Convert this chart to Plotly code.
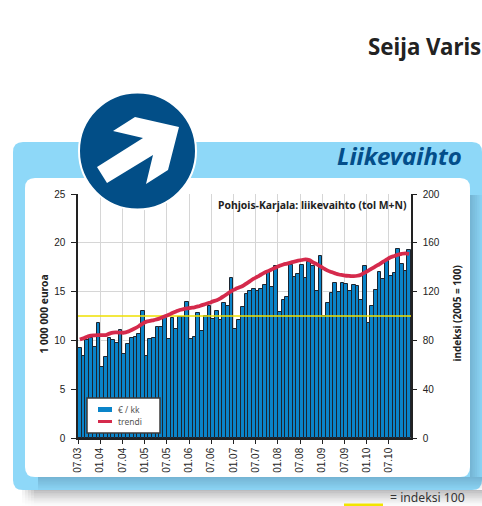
import plotly.graph_objects as go

# ---------- data ----------
revenue = [9.19, 8.4, 10.04, 10.25, 9.29, 11.75, 7.31, 8.27, 10.2, 10.04, 9.7, 11.03, 8.6, 9.67, 10.28,
           10.35, 10.62, 12.97, 8.4, 10.14, 10.28, 11.37, 11.37, 12.26, 10.1, 12.26, 11.13, 12.4, 12.4, 13.93,
           10.18, 10.3, 12.77, 10.96, 12.53, 13.52, 12.2, 12.97, 12.05, 13.86, 13.5, 16.36, 11.13, 12.05, 13.4,
           14.72, 15.02, 15.23, 15.06, 15.23, 15.67, 17.0, 15.43, 17.65, 12.91, 14.14, 14.48, 17.73, 16.46, 16.8,
           17.73, 16.36, 18.0, 17.62, 15.06, 18.6, 12.5, 13.8, 14.82, 15.85, 14.93, 15.85, 15.78, 15.02, 15.71,
           15.57, 14.14, 17.65, 11.75, 13.52, 15.16, 16.97, 16.26, 18.17, 16.63, 16.87, 19.33, 17.83, 17.11, 19.23]
trend = [80.7, 81.8, 83, 84, 84.2, 84.3, 84.4, 84.4, 85.6, 86.4, 86.5, 86.4, 86.3, 87.2, 88.5,
         90, 91.8, 93.8, 95.4, 96, 96.7, 97.4, 98.6, 99.8, 101, 102.4, 103.7, 104.9, 105.6, 106.2,
         106.7, 107.1, 107.9, 108.9, 109.8, 110.8, 112, 112.9, 114.5, 116.4, 118.4, 120.5, 122, 123.3, 124.6,
         126.6, 128.6, 130.6, 132.2, 134, 135.7, 137, 138.4, 139.8, 141.2, 142.2, 143, 143.8, 144.6, 145.3,
         145.9, 146.4, 145.8, 143.9, 142.5, 140.6, 138.9, 137.2, 136, 134.9, 134, 133.5, 133, 132.8, 132.7,
         133, 133.9, 135.6, 137.2, 139, 140.8, 142.6, 144.6, 146.4, 148.2, 149.2, 150.2, 151, 151.4, 151]
index_level = [100, 100]
x_tick_labels = ["07.03", "01.04", "07.04", "01.05", "07.05", "01.06", "07.06", "01.07",
                 "07.07", "01.08", "07.08", "01.09", "07.09", "01.10", "07.10"]
left_ticks = [0, 5, 10, 15, 20, 25]
right_ticks = [0, 40, 80, 120, 160, 200]
months_per_tick = 6
n_months = len(revenue)

W, H = 482, 506
L, R, T, B = 78, 411, 194, 438
px_x = lambda x: (x - L) / (R - L)
px_y = lambda y: (B - y) / (B - T)

def rrect(x0, y0, x1, y1, r, color, layer="below"):
    X, Y = px_x, px_y
    p = (f"M {X(x0 + r)},{Y(y0)} L {X(x1 - r)},{Y(y0)} Q {X(x1)},{Y(y0)} {X(x1)},{Y(y0 + r)} "
         f"L {X(x1)},{Y(y1 - r)} Q {X(x1)},{Y(y1)} {X(x1 - r)},{Y(y1)} "
         f"L {X(x0 + r)},{Y(y1)} Q {X(x0)},{Y(y1)} {X(x0)},{Y(y1 - r)} "
         f"L {X(x0)},{Y(y0 + r)} Q {X(x0)},{Y(y0)} {X(x0 + r)},{Y(y0)} Z")
    return dict(type="path", xref="paper", yref="paper", path=p, fillcolor=color,
                line=dict(width=0), layer=layer)

def box(x0, y0, x1, y1, color, layer="below", line=None):
    return dict(type="rect", xref="paper", yref="paper", layer=layer,
                x0=px_x(x0), x1=px_x(x1), y0=px_y(y1), y1=px_y(y0),
                fillcolor=color, line=line or dict(width=0))

shapes = []
# grey drop shadow under the panel, with a soft left end
shadow_steps = 10
for k in range(shadow_steps):
    a = 0.36 * (1 - k / shadow_steps) ** 1.3
    y0, y1 = 490 + k * 1.6, 490 + (k + 1) * 1.6
    shapes.append(box(34, y0, 482, y1, f"rgba(70,70,75,{a:.3f})"))
    for j in range(4):
        shapes.append(box(22 + j * 3, y0, 25 + j * 3, y1, f"rgba(70,70,75,{a * (j + 1) / 5:.3f})"))
# blue panel
shapes.append(rrect(13, 142, 482, 490, 10, "#8ed8f8"))
# inner shadow of the white card on the blue panel
steps = 7
for k in range(steps):
    a = 0.30 * (1 - k / steps)
    shapes.append(box(38, 477 + k * 13 / steps, 482, 477 + (k + 1) * 13 / steps, f"rgba(60,100,130,{a:.3f})"))
    shapes.append(box(470 + k * 12 / steps, 195, 470 + (k + 1) * 12 / steps, 477, f"rgba(60,100,130,{a:.3f})"))
# white card
shapes.append(rrect(25, 178, 470, 477, 10, "white"))

# round sign
cx, cy, rad = 137.5, 151, 58.5
shapes.append(dict(type="circle", xref="paper", yref="paper", layer="above",
                   x0=px_x(cx - rad), x1=px_x(cx + rad), y0=px_y(cy + rad), y1=px_y(cy - rad),
                   fillcolor="#024e87", line=dict(color="white", width=2)))
arrow = [(113, 131), (135, 117), (179, 127), (168, 170), (146, 184), (153, 155), (107, 183), (97, 167), (143, 138)]
shapes.append(dict(type="path", xref="paper", yref="paper", layer="above",
                   path="M " + " L ".join(f"{px_x(a)},{px_y(b)}" for a, b in arrow) + " Z",
                   fillcolor="white", line=dict(width=0)))
# yellow key for index 100
shapes.append(box(344, 503.5, 383, 506, "#f2e500", layer="above"))
# legend box and keys
shapes.append(box(87, 398, 160, 433, "white", layer="above", line=dict(color="#3a3a3a", width=1.5)))
shapes.append(box(98, 407, 112, 412, "#0a84c9", layer="above"))
shapes.append(dict(type="line", xref="paper", yref="paper", layer="above",
                   x0=px_x(98), x1=px_x(112), y0=px_y(421.5), y1=px_y(421.5),
                   line=dict(color="#d52a4c", width=3)))

x_centers = [i + 0.5 for i in range(n_months)]
fig = go.Figure()
fig.add_trace(go.Bar(x=x_centers, y=revenue, name="€ / kk", width=1, showlegend=False,
                     marker=dict(color="#0a84c9", line=dict(color="#1c2530", width=1))))
fig.add_trace(go.Scatter(x=[0, n_months], y=index_level, yaxis="y2", mode="lines", showlegend=False,
                         line=dict(color="#efe100", width=1.5), hoverinfo="skip"))
fig.add_trace(go.Scatter(x=x_centers, y=trend, yaxis="y2", mode="lines", name="trendi", showlegend=False,
                         line=dict(color="#d52a4c", width=3.8, shape="spline")))

tick_font = dict(family="Liberation Sans", size=10, color="#222222")
bold = "Noto Sans"
ann = [
    dict(text="<b>Seija Varis</b>", x=px_x(481.5), y=px_y(46), xanchor="right", yanchor="middle",
         font=dict(family=bold, size=22.3, color="#222222")),
    dict(text="<b><i>Liikevaihto</i></b>", x=px_x(463), y=px_y(155.5), xanchor="right", yanchor="middle",
         font=dict(family=bold, size=24, color="#034e8a")),
    dict(text="<b>Pohjois-Karjala: liikevaihto (tol M+N)</b>", x=px_x(408), y=px_y(204.5), xanchor="right",
         yanchor="middle", font=dict(family=bold, size=10.4, color="#222222")),
    dict(text="<b>1 000 000 euroa</b>", x=px_x(43.5), y=px_y(314), textangle=-90, xanchor="center", yanchor="middle",
         font=dict(family=bold, size=10.3, color="#222222")),
    dict(text="<b>indeksi (2005 = 100)</b>", x=px_x(456), y=px_y(313.5), textangle=-90, xanchor="center",
         yanchor="middle", font=dict(family=bold, size=10, color="#222222")),
    dict(text="= indeksi 100", x=px_x(466), y=px_y(497.5), xanchor="right", yanchor="middle",
         font=dict(family="Noto Sans", size=12.2, color="#333333")),
    dict(text="€ / kk", x=px_x(117), y=px_y(409.5), xanchor="left", yanchor="middle",
         font=dict(family="Noto Sans", size=8.5, color="#555555")),
    dict(text="trendi", x=px_x(117), y=px_y(421.5), xanchor="left", yanchor="middle",
         font=dict(family="Noto Sans", size=8.5, color="#555555")),
]
for a in ann:
    a.update(xref="paper", yref="paper", showarrow=False, borderpad=0)

grid = "#d6d6d6"
fig.update_layout(
    width=W, height=H, autosize=False,
    margin=dict(l=L, r=W - R, t=T, b=H - B, pad=0),
    paper_bgcolor="white", plot_bgcolor="rgba(0,0,0,0)",
    bargap=0, shapes=shapes, annotations=ann, showlegend=False,
    font=tick_font,
    xaxis=dict(range=[0, n_months], tickmode="array",
               tickvals=[i * months_per_tick for i in range(len(x_tick_labels))], ticktext=x_tick_labels,
               tickangle=-90, ticks="outside", ticklen=4, tickcolor="#222", showgrid=True, gridcolor=grid,
               gridwidth=1.3, showline=True, linecolor="#222", linewidth=1.5, zeroline=False, tickfont=tick_font),
    yaxis=dict(range=[0, 25], tickvals=left_ticks, ticks="outside", ticklen=5, tickcolor="#222",
               showgrid=True, gridcolor=grid, gridwidth=1.3, showline=True, linecolor="#222", linewidth=1.5,
               zeroline=False, tickfont=tick_font, ticklabelstandoff=4),
    yaxis2=dict(range=[0, 200], tickvals=right_ticks, overlaying="y", side="right", ticks="outside", ticklen=4,
                tickcolor="#222", showgrid=False, showline=True, linecolor="#222", linewidth=1.5,
                zeroline=False, tickfont=tick_font, ticklabelstandoff=4),
)
fig.write_html("out.html", config={"displayModeBar": False},
               post_script="document.body.style.margin='0';document.body.style.overflow='hidden';")
